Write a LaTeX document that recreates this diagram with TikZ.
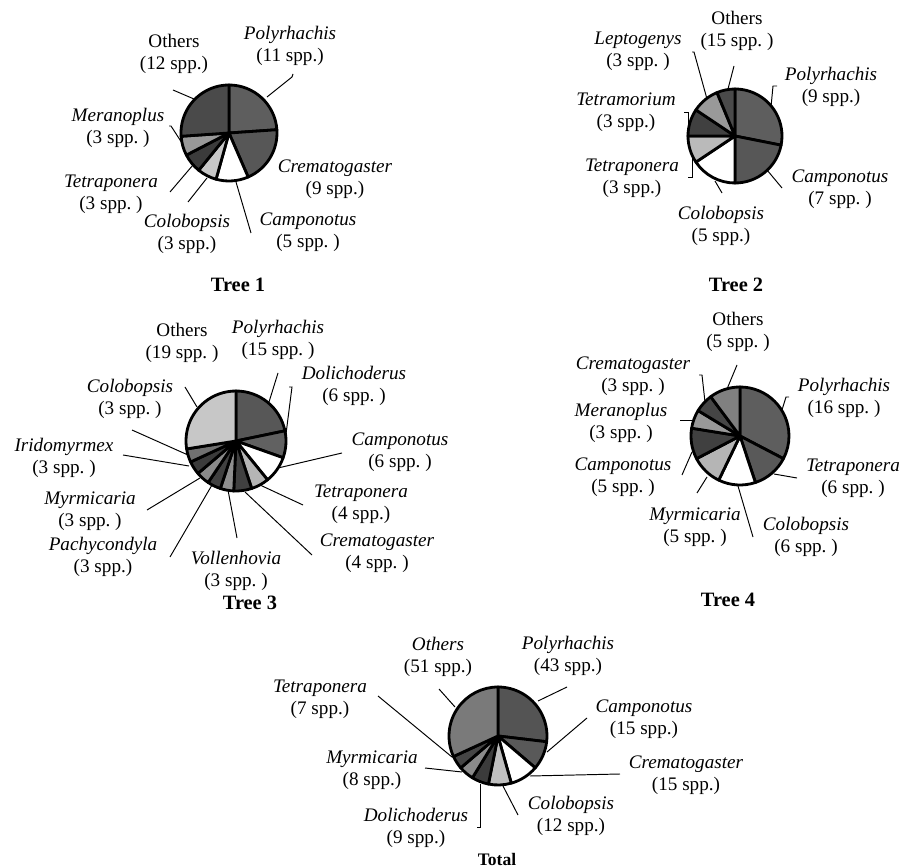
\documentclass[tikz,border=0pt]{standalone}
\usepackage{fontspec}
\setmainfont{Liberation Serif}
\usetikzlibrary{positioning}
\tikzstyle{lbl} = [align=center, inner sep=0pt, font=\fontsize{10.9}{12.5}\selectfont\frenchspacing]
\tikzstyle{title} = [inner sep=0pt, font=\fontsize{11.6}{13}\selectfont\bfseries]
\tikzstyle{lead} = [line width=0.55pt]
\tikzstyle{slice} = [draw=black, line width=1.6pt, line join=round]

% pie: centre, radius, total, list of count/colour (clockwise from top)
\newcommand{\antpie}[4]{%
  \gdef\antcum{0}%
  \foreach \n/\c in {#4} {
    \pgfmathsetmacro\antsa{-90+\antcum/#3*360}
    \pgfmathsetmacro\antea{-90+(\antcum+\n)/#3*360}
    \filldraw[slice, fill=\c] (#1) -- ++(\antsa:#2) arc[start angle=\antsa, end angle=\antea, radius=#2] -- cycle;
    \pgfmathsetmacro\antnext{\antcum+\n}\xdef\antcum{\antnext}
  }
}

\begin{document}
\begin{tikzpicture}[x=0.02cm, y=-0.02cm]
\useasboundingbox (0,0) rectangle (907,868);

% pie centres
\coordinate (t1) at (229,133);
\coordinate (t2) at (735,136);
\coordinate (t3) at (236,441);
\coordinate (t4) at (740,436);
\coordinate (tt) at (498,736);

\antpie{t1}{48}{46}{11/black!63, 9/black!66, 5/white, 3/black!22, 3/black!77, 3/black!40, 12/black!71}
\antpie{t2}{47}{32}{9/black!63, 7/black!66, 5/white, 3/black!27, 3/black!75, 3/black!40, 2/black!71}
\antpie{t3}{50}{69}{15/black!66, 6/black!62, 6/white, 4/black!29, 4/black!75, 3/black!44, 3/black!75, 3/black!46, 3/black!77, 3/black!56, 19/black!22}
\antpie{t4}{49}{49}{16/black!63, 6/black!65, 6/white, 5/black!29, 5/black!75, 3/black!40, 3/black!73, 5/black!50}
\antpie{tt}{49}{160}{43/black!67, 15/black!65, 15/white, 12/black!25, 9/black!77, 8/black!46, 7/black!73, 51/black!52}

% Tree 1
\node (t1oth) [lbl] at (174,54) {Others\\(12 spp.)};
\node (t1poly) [lbl] at (290,46) {\textit{Polyrhachis}\\(11 spp.)};
\node (t1mera) [lbl] at (118,128) {\textit{Meranoplus}\\(3 spp. )};
\node (t1tetra) [lbl] at (111,194) {\textit{Tetraponera}\\(3 spp. )};
\node (t1colo) [lbl] at (187,234) {\textit{Colobopsis}\\(3 spp.)};
\node (t1camp) [lbl] at (308,232) {\textit{Camponotus}\\(5 spp. )};
\node (t1crem) [lbl] at (335,179) {\textit{Crematogaster}\\(9 spp.)};
\node (t1title) [title] at (238,285) {Tree 1};

\coordinate (t1othA) at (194,99);   \coordinate (t1othB) at (173,90);
\coordinate (t1polyA) at (267,97);  \coordinate (t1polyB) at (292,77);
\coordinate (t1meraA) at (182,143); \coordinate (t1meraB) at (171,126);
\coordinate (t1tetraA) at (193,165); \coordinate (t1tetraB) at (170,192);
\coordinate (t1coloA) at (207,178); \coordinate (t1coloB) at (188,202);
\coordinate (t1campA) at (236,182); \coordinate (t1campB) at (251,233);
\draw [lead] (t1othA) -- (t1othB);
\draw [lead] (t1polyA) -- (t1polyB) -- ++(1,-3);
\draw [lead] (t1meraA) -- (t1meraB) -- ++(-2,0);
\draw [lead] (t1tetraA) -- (t1tetraB);
\draw [lead] (t1coloA) -- (t1coloB);
\draw [lead] (t1campA) -- (t1campB);

% Tree 2
\node (t2oth) [lbl] at (737,31) {Others\\(15 spp. )};
\node (t2lept) [lbl] at (638,51) {\textit{Leptogenys}\\(3 spp. )};
\node (t2poly) [lbl] at (831,87) {\textit{Polyrhachis}\\(9 spp.)};
\node (t2tmor) [lbl] at (626,112) {\textit{Tetramorium}\\(3 spp.)};
\node (t2tetra) [lbl] at (632,178) {\textit{Tetraponera}\\(3 spp.)};
\node (t2camp) [lbl] at (840,189) {\textit{Camponotus}\\(7 spp. )};
\node (t2colo) [lbl] at (721,226) {\textit{Colobopsis}\\(5 spp.)};
\node (t2title) [title] at (736,285) {Tree 2};

\coordinate (t2othA) at (728,89);   \coordinate (t2othB) at (734,66);
\coordinate (t2leptA) at (707,99);  \coordinate (t2leptB) at (694,52);
\coordinate (t2polyA) at (771,107); \coordinate (t2polyB) at (773,86);
\coordinate (t2tmorA) at (688,135); \coordinate (t2tmorB) at (688,112);
\coordinate (t2tetraA) at (692,157); \coordinate (t2tetraB) at (692,177);
\coordinate (t2campA) at (767,170); \coordinate (t2campB) at (782,188);
\coordinate (t2coloA) at (715,181); \coordinate (t2coloB) at (722,193);
\draw [lead] (t2othA) -- (t2othB);
\draw [lead] (t2leptA) -- (t2leptB) -- ++(-2,0);
\draw [lead] (t2polyA) -- (t2polyB) -- ++(4,0);
\draw [lead] (t2tmorA) -- (t2tmorB) -- ++(-4,0);
\draw [lead] (t2tetraA) -- (t2tetraB) -- ++(-4,0);
\draw [lead] (t2campA) -- (t2campB);
\draw [lead] (t2coloA) -- (t2coloB);

% Tree 3
\node (t3oth) [lbl] at (182,343) {Others\\(19 spp. )};
\node (t3poly) [lbl] at (278,340) {\textit{Polyrhachis}\\(15 spp. )};
\node (t3doli) [lbl] at (354,386) {\textit{Dolichoderus}\\(6 spp. )};
\node (t3colo) [lbl] at (130,399) {\textit{Colobopsis}\\(3 spp. )};
\node (t3camp) [lbl] at (400,452) {\textit{Camponotus}\\(6 spp. )};
\node (t3irid) [lbl] at (64,458) {\textit{Iridomyrmex}\\(3 spp. )};
\node (t3tetra) [lbl] at (361,504) {\textit{Tetraponera}\\(4 spp.)};
\node (t3myrm) [lbl] at (90,511) {\textit{Myrmicaria}\\(3 spp. )};
\node (t3crem) [lbl] at (377,553) {\textit{Crematogaster}\\(4 spp. )};
\node (t3pach) [lbl] at (103,557) {\textit{Pachycondyla}\\(3 spp.)};
\node (t3voll) [lbl] at (236,571) {\textit{Vollenhovia}\\(3 spp. )};
\node (t3title) [title] at (250,603) {Tree 3};

\coordinate (t3othA) at (197,407);  \coordinate (t3othB) at (185,387);
\coordinate (t3polyA) at (269,402); \coordinate (t3polyB) at (278,373);
\coordinate (t3doliA) at (286,434); \coordinate (t3doliB) at (292,387);
\coordinate (t3coloA) at (188,455); \coordinate (t3coloB) at (132,430);
\coordinate (t3iridA) at (189,466); \coordinate (t3iridB) at (123,455);
\coordinate (t3myrmA) at (200,478); \coordinate (t3myrmB) at (147,510);
\coordinate (t3pachA) at (212,485); \coordinate (t3pachB) at (170,557);
\coordinate (t3vollA) at (228,490); \coordinate (t3vollB) at (237,538);
\coordinate (t3cremA) at (245,492); \coordinate (t3cremB) at (312,555);
\coordinate (t3tetraA) at (260,485); \coordinate (t3tetraB) at (303,505);
\coordinate (t3campA) at (278,468); \coordinate (t3campB) at (342,453);
\draw [lead] (t3othA) -- (t3othB);
\draw [lead] (t3polyA) -- (t3polyB);
\draw [lead] (t3doliA) -- (t3doliB) -- ++(-3,0);
\draw [lead] (t3coloA) -- (t3coloB);
\draw [lead] (t3iridA) -- (t3iridB);
\draw [lead] (t3myrmA) -- (t3myrmB);
\draw [lead] (t3pachA) -- (t3pachB);
\draw [lead] (t3vollA) -- (t3vollB);
\draw [lead] (t3cremA) -- (t3cremB);
\draw [lead] (t3tetraA) -- (t3tetraB);
\draw [lead] (t3campA) -- (t3campB);

% Tree 4
\node (t4oth) [lbl] at (738,332) {Others\\(5 spp. )};
\node (t4crem) [lbl] at (633,376) {\textit{Crematogaster}\\(3 spp. )};
\node (t4mera) [lbl] at (621,423) {\textit{Meranoplus}\\(3 spp. )};
\node (t4poly) [lbl] at (844,398) {\textit{Polyrhachis}\\(16 spp. )};
\node (t4camp) [lbl] at (623,477) {\textit{Camponotus}\\(5 spp. )};
\node (t4tetra) [lbl] at (853,478) {\textit{Tetraponera}\\(6 spp. )};
\node (t4myrm) [lbl] at (695,527) {\textit{Myrmicaria}\\(5 spp. )};
\node (t4colo) [lbl] at (806,537) {\textit{Colobopsis}\\(6 spp. )};
\node (t4title) [title] at (728,600) {Tree 4};

\coordinate (t4othA) at (727,389);  \coordinate (t4othB) at (737,365);
\coordinate (t4cremA) at (705,402); \coordinate (t4cremB) at (702,375);
\coordinate (t4meraA) at (695,420); \coordinate (t4meraB) at (680,420);
\coordinate (t4polyA) at (782,410); \coordinate (t4polyB) at (786,397);
\coordinate (t4campA) at (692,452); \coordinate (t4campB) at (682,475);
\coordinate (t4tetraA) at (774,474); \coordinate (t4tetraB) at (797,478);
\coordinate (t4myrmA) at (707,477); \coordinate (t4myrmB) at (697,493);
\coordinate (t4coloA) at (738,486); \coordinate (t4coloB) at (753,537);
\draw [lead] (t4othA) -- (t4othB);
\draw [lead] (t4cremA) -- (t4cremB) -- ++(-3,0);
\draw [lead] (t4meraA) -- (t4meraB);
\draw [lead] (t4polyA) -- (t4polyB) -- ++(3,0);
\draw [lead] (t4campA) -- (t4campB);
\draw [lead] (t4tetraA) -- (t4tetraB);
\draw [lead] (t4myrmA) -- (t4myrmB);
\draw [lead] (t4coloA) -- (t4coloB);

% Total
\node (ttoth) [lbl] at (438,657) {\textit{Others}\\(51 spp.)};
\node (ttpoly) [lbl] at (568,656) {\textit{Polyrhachis}\\(43 spp.)};
\node (tttetra) [lbl] at (320,699) {\textit{Tetraponera}\\(7 spp.)};
\node (ttcamp) [lbl] at (644,719) {\textit{Camponotus}\\(15 spp.)};
\node (ttmyrm) [lbl] at (372,770) {\textit{Myrmicaria}\\(8 spp.)};
\node (ttcrem) [lbl] at (686,775) {\textit{Crematogaster}\\(15 spp.)};
\node (ttdoli) [lbl] at (416,828) {\textit{Dolichoderus}\\(9 spp.)};
\node (ttcolo) [lbl] at (571,816) {\textit{Colobopsis}\\(12 spp.)};
\node (tttitle) [title, font=\fontsize{10}{12}\selectfont\bfseries] at (497,859) {Total};

\coordinate (ttothA) at (455,707);  \coordinate (ttothB) at (439,689);
\coordinate (ttpolyA) at (538,701); \coordinate (ttpolyB) at (567,687);
\coordinate (tttetraA) at (452,757); \coordinate (tttetraB) at (378,696);
\coordinate (ttcampA) at (547,752); \coordinate (ttcampB) at (587,718);
\coordinate (ttmyrmA) at (462,772); \coordinate (ttmyrmB) at (425,768);
\coordinate (ttcremA) at (530,776); \coordinate (ttcremB) at (620,774);
\coordinate (ttdoliA) at (480,784); \coordinate (ttdoliB) at (480,827);
\coordinate (ttcoloA) at (503,786); \coordinate (ttcoloB) at (518,815);
\draw [lead] (ttothA) -- (ttothB);
\draw [lead] (ttpolyA) -- (ttpolyB);
\draw [lead] (tttetraA) -- (tttetraB);
\draw [lead] (ttcampA) -- (ttcampB);
\draw [lead] (ttmyrmA) -- (ttmyrmB);
\draw [lead] (ttcremA) -- (ttcremB);
\draw [lead] (ttdoliA) -- (ttdoliB) -- ++(-3,0);
\draw [lead] (ttcoloA) -- (ttcoloB);

\end{tikzpicture}
\end{document}
